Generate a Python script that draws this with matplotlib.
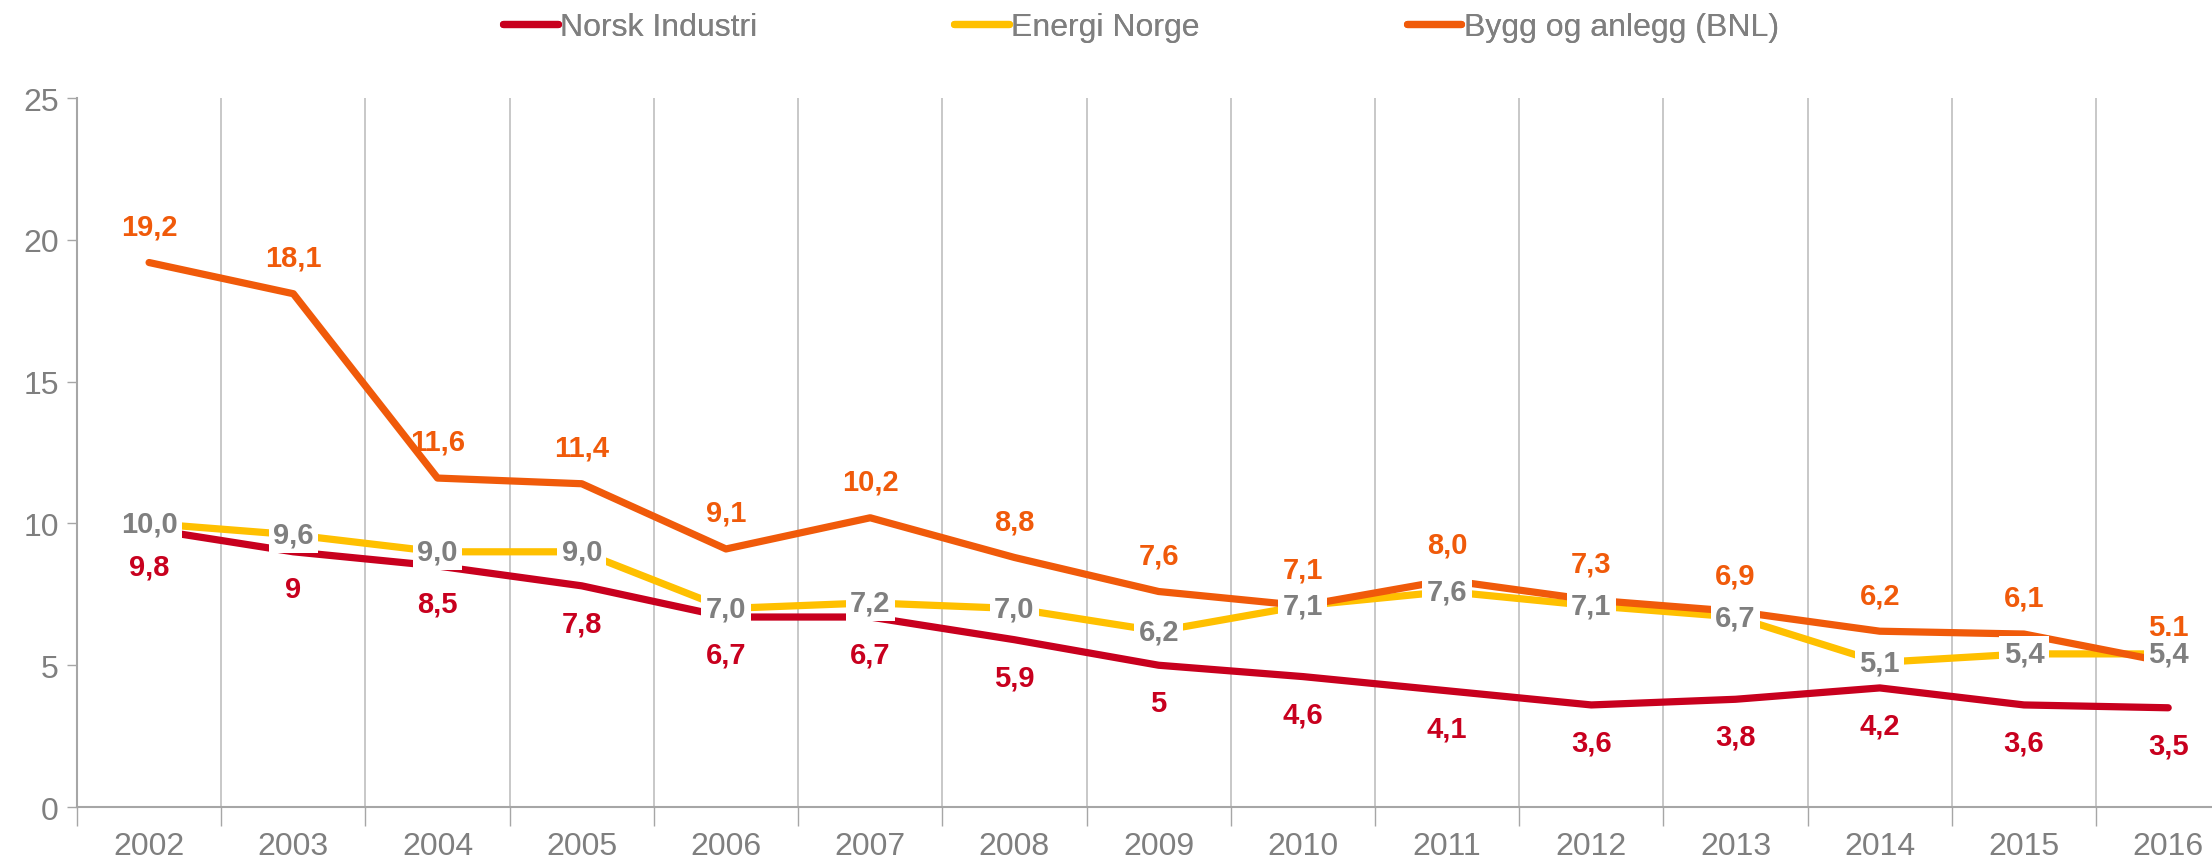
import numpy as np
import matplotlib.pyplot as plt
from matplotlib.ticker import FixedLocator, NullFormatter

plt.rcParams['font.family'] = ['Liberation Sans', 'DejaVu Sans']

years = [2002, 2003, 2004, 2005, 2006, 2007, 2008, 2009, 2010, 2011, 2012, 2013, 2014, 2015, 2016]
norsk_industri = [9.8, 9, 8.5, 7.8, 6.7, 6.7, 5.9, 5, 4.6, 4.1, 3.6, 3.8, 4.2, 3.6, 3.5]
energi_norge = [10.0, 9.6, 9.0, 9.0, 7.0, 7.2, 7.0, 6.2, 7.1, 7.6, 7.1, 6.7, 5.1, 5.4, 5.4]
bnl = [19.2, 18.1, 11.6, 11.4, 9.1, 10.2, 8.8, 7.6, 7.1, 8.0, 7.3, 6.9, 6.2, 6.1, 5.1]
names = ["Norsk Industri", "Energi Norge", "Bygg og anlegg (BNL)"]

RED = "#C8001E"
YELLOW = "#FFC000"
ORANGE = "#F05A0A"
GRAY = "#7F7F7F"
AXGRAY = "#A6A6A6"

fig = plt.figure(figsize=(22.12, 8.62), dpi=100)
ax = fig.add_axes([0.0348, 0.0626, 0.978, 0.8225])

x = np.arange(len(years))
lw = 5.2
l1, = ax.plot(x, norsk_industri, color=RED, lw=lw, solid_capstyle="round", zorder=3)
l2, = ax.plot(x, energi_norge, color=YELLOW, lw=lw, solid_capstyle="round", zorder=4)
l3, = ax.plot(x, bnl, color=ORANGE, lw=lw, solid_capstyle="round", zorder=5)


def fmt(v):
    return f"{v:.1f}".replace(".", ",")


lab_fs = 21
# Norsk Industri labels below, Energi Norge on the point (white box), BNL above
for xi, v in zip(x, norsk_industri):
    s = str(v).replace(".", ",")
    ax.annotate(s, (xi, v), xytext=(0, -27), textcoords="offset points",
                ha="center", va="center", fontsize=lab_fs, fontweight="bold",
                color=RED, zorder=10)
for xi, v in zip(x, energi_norge):
    ax.annotate(fmt(v), (xi, v), xytext=(0, 0), textcoords="offset points",
                ha="center", va="center", fontsize=lab_fs, fontweight="bold",
                color=GRAY, zorder=11,
                bbox=dict(boxstyle="square,pad=0.15", fc="white", ec="none"))
for xi, v in zip(x, bnl):
    ax.annotate(fmt(v), (xi, v), xytext=(0, 26), textcoords="offset points",
                ha="center", va="center", fontsize=lab_fs, fontweight="bold",
                color=ORANGE, zorder=10)

ax.set_xlim(-0.5, len(years) - 0.5)
ax.set_ylim(0, 25)
ax.set_yticks([0, 5, 10, 15, 20, 25])

# boundaries as major ticks (with grid), year labels as minor ticks
ax.xaxis.set_major_locator(FixedLocator(np.arange(-0.5, len(years), 1.0)))
ax.xaxis.set_major_formatter(NullFormatter())
ax.xaxis.set_minor_locator(FixedLocator(x))
ax.set_xticklabels([str(y) for y in years], minor=True)
ax.tick_params(axis="x", which="major", length=14, width=1, color=AXGRAY)
ax.tick_params(axis="x", which="minor", length=0, labelsize=23, labelcolor=GRAY, pad=17)
ax.tick_params(axis="y", length=7, width=1, color=AXGRAY, labelsize=23, labelcolor=GRAY, pad=6)
ax.xaxis.grid(True, which="major", color="#BFBFBF", lw=1.2)
ax.set_axisbelow(True)

for side in ["top", "right"]:
    ax.spines[side].set_visible(False)
for side in ["left", "bottom"]:
    ax.spines[side].set_color(AXGRAY)
    ax.spines[side].set_linewidth(1.5)

# legend entries placed as in the original slots
leg_x = [0.2275, 0.4315, 0.636]
for line, name, lx in zip([l1, l2, l3], names, leg_x):
    leg = fig.legend([line], [name], loc="center left", bbox_to_anchor=(lx, 0.9675),
                     frameon=False, fontsize=23, handlelength=1.7, handletextpad=0.08,
                     borderpad=0, borderaxespad=0)
    for t in leg.get_texts():
        t.set_color(GRAY)
    fig.add_artist(leg)

fig.savefig("out.png", dpi=100)
